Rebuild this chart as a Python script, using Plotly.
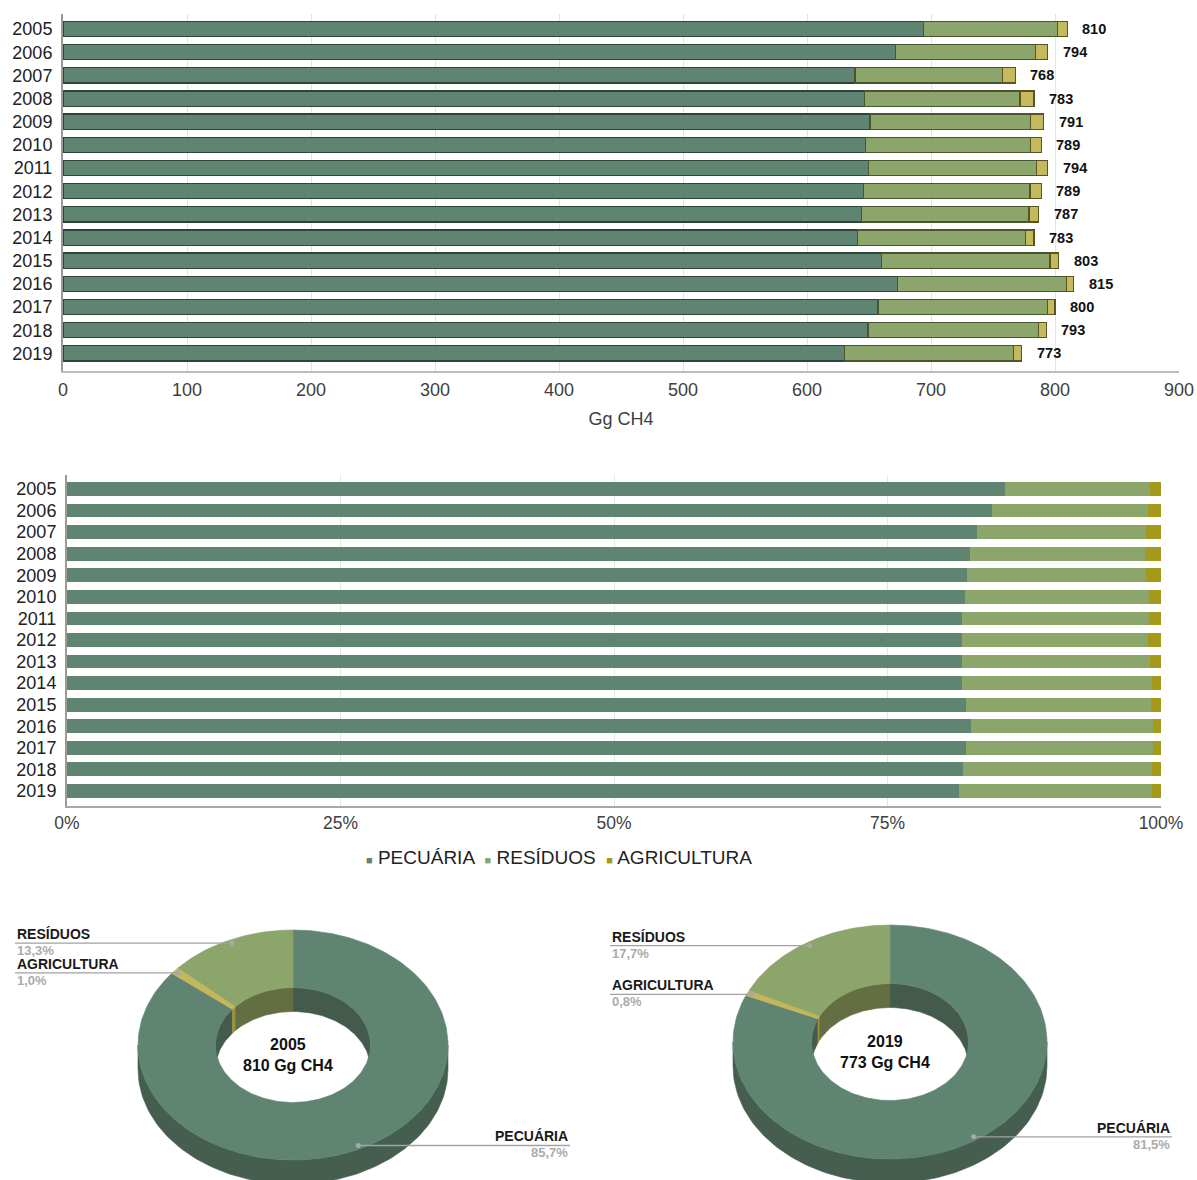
import math
import plotly.graph_objects as go

# ---- data: CH4 emissions by sector (Gg CH4) ----
years = ["2005", "2006", "2007", "2008", "2009", "2010", "2011", "2012",
         "2013", "2014", "2015", "2016", "2017", "2018", "2019"]
pecuaria = [694.2, 671.5, 638.7, 646.5, 650.8, 647.3, 649.7, 645.7,
            643.8, 640.9, 659.9, 673.1, 657.3, 649.2, 630.0]
residuos = [107.7, 112.9, 118.8, 125.3, 129.3, 132.8, 135.5, 134.1,
            135.2, 135.4, 136.1, 136.3, 136.5, 137.3, 136.8]
agricultura = [8.1, 9.6, 10.5, 11.2, 10.9, 8.9, 8.8, 9.2,
               8.0, 6.7, 7.0, 5.6, 6.2, 6.5, 6.2]
sector_names = ["PECUÁRIA", "RESÍDUOS", "AGRICULTURA"]
donut_years = ["2005", "2019"]
x_ticks_pct = [0, 25, 50, 75, 100]

W, H = 1197, 1180
FONT = "Liberation Sans, Arial, sans-serif"


def fx(p):
    return p / W


def fy(p):
    return 1 - p / H


series = [pecuaria, residuos, agricultura]
totals = [sum(v) for v in zip(*series)]
percents = [[v / t * 100 for v, t in zip(s, totals)] for s in series]

top_colors = ["#5f8572", "#8ba56b", "#c5b95e"]
top_edges = ["#2e4437", "#48562f", "#5a5420"]
pct_colors = ["#5f8572", "#8ba56b", "#a39a1c"]

fig = go.Figure()

# absolute stacked bars
for name, vals, col, edge in zip(sector_names, series, top_colors, top_edges):
    fig.add_trace(go.Bar(
        y=years, x=vals, orientation="h", name=name, width=0.66,
        marker=dict(color=col, line=dict(color=edge, width=1.2)),
        xaxis="x", yaxis="y", showlegend=False, hoverinfo="skip"))

# normalised stacked bars (share of each year's total)
for name, vals, col in zip(sector_names, percents, pct_colors):
    fig.add_trace(go.Bar(
        y=years, x=vals, orientation="h", name=name, width=0.64,
        marker=dict(color=col, line=dict(width=0)),
        xaxis="x2", yaxis="y2", showlegend=False, hoverinfo="skip"))

annotations = []
# total labels at the end of each stacked bar (category index on y)
for idx, t in enumerate(totals):
    annotations.append(dict(
        x=t, y=idx, xref="x", yref="y", text=f"<b>{t:.0f}</b>",
        showarrow=False, xanchor="left", yanchor="middle", xshift=13,
        font=dict(family=FONT, size=14.5, color="#111111")))

# legend row under the normalised chart: small coloured squares + names
legend_parts = [
    f"<span style='color:{c};font-size:11px'>■</span> {n}"
    for n, c in zip(sector_names, pct_colors)
]
annotations.append(dict(
    x=fx(559), y=fy(857), xref="paper", yref="paper",
    text="  ".join(legend_parts), showarrow=False,
    xanchor="center", yanchor="middle",
    font=dict(family=FONT, size=19, color="#222222")))

# ---- 3D-look donuts for the first and last year ----
face_cols = {"PECUÁRIA": "#5f8572", "RESÍDUOS": "#8ba56b", "AGRICULTURA": "#c6b65a"}
side_cols = {"PECUÁRIA": "#455e50", "RESÍDUOS": "#66733f", "AGRICULTURA": "#918a3a"}
inner_cols = {"PECUÁRIA": "#435a4c", "RESÍDUOS": "#636e42", "AGRICULTURA": "#9a923c"}

donut_geo = [
    dict(cx=293, cy=1045, rx=155, ry=115, left_x=15, right_x=570),
    dict(cx=890, cy=1042, rx=157, ry=117, left_x=610, right_x=1172),
]
HOLE = 0.5
DEPTH = 24
TAU = 2 * math.pi


def arc(cx, cy, rx, ry, a0, a1):
    n = max(3, int(abs(a1 - a0) / TAU * 240) + 3)
    ts = [a0 + (a1 - a0) * k / (n - 1) for k in range(n)]
    return ([cx + rx * math.sin(t) for t in ts],
            [cy - ry * math.cos(t) for t in ts])


def clip(a0, a1, lo, hi):
    s, e = max(a0, lo), min(a1, hi)
    return (s, e) if e > s else None


def poly(xs, ys, color):
    fig.add_trace(go.Scatter(
        x=xs + [xs[0]], y=ys + [ys[0]], mode="lines", fill="toself",
        fillcolor=color, line=dict(color=color, width=0.6),
        xaxis="x3", yaxis="y3", showlegend=False, hoverinfo="skip"))


for yr, g in zip(donut_years, donut_geo):
    i = years.index(yr)
    vals = {n: s[i] for n, s in zip(sector_names, series)}
    total = totals[i]
    # clockwise from 12 o'clock: livestock, agriculture, waste
    order = ["PECUÁRIA", "AGRICULTURA", "RESÍDUOS"]
    slices = []
    a = 0.0
    for n in order:
        span = vals[n] / total * TAU
        slices.append((n, a, a + span))
        a += span
    cx, cy, rx, ry = g["cx"], g["cy"], g["rx"], g["ry"]
    irx, iry = rx * HOLE, ry * HOLE

    # outer wall (front half)
    for n, a0, a1 in slices:
        c = clip(a0, a1, math.pi / 2, 3 * math.pi / 2)
        if c:
            xs, ys = arc(cx, cy, rx, ry, *c)
            poly(xs + xs[::-1], ys + [y + DEPTH for y in ys[::-1]], side_cols[n])
    # inner wall seen through the hole (far half)
    for n, a0, a1 in slices:
        for lo, hi in ((0, math.pi / 2), (3 * math.pi / 2, TAU)):
            c = clip(a0, a1, lo, hi)
            if c:
                xs, ys = arc(cx, cy, irx, iry, *c)
                poly(xs + xs[::-1], ys + [y + DEPTH for y in ys[::-1]], inner_cols[n])
    # top face
    for n, a0, a1 in slices:
        ox, oy = arc(cx, cy, rx, ry, a0, a1)
        ix, iy = arc(cx, cy, irx, iry, a0, a1)
        poly(ox + ix[::-1], oy + iy[::-1], face_cols[n])

    # leader lines and labels
    for n, a0, a1 in slices:
        mid = (a0 + a1) / 2
        dx = cx + 0.97 * rx * math.sin(mid)
        dy = cy - 0.97 * ry * math.cos(mid)
        share = f"{vals[n] / total * 100:.1f}".replace(".", ",")
        if n == "PECUÁRIA":
            lx, anchor = g["right_x"], "right"
        else:
            lx, anchor = g["left_x"], "left"
        fig.add_trace(go.Scatter(
            x=[lx, dx], y=[dy, dy], mode="lines",
            line=dict(color="#a2a2a2", width=1.3),
            xaxis="x3", yaxis="y3", showlegend=False, hoverinfo="skip"))
        fig.add_trace(go.Scatter(
            x=[dx], y=[dy], mode="markers",
            marker=dict(color="#a8a8a8", size=5),
            xaxis="x3", yaxis="y3", showlegend=False, hoverinfo="skip"))
        annotations.append(dict(
            x=lx, y=dy - 9, xref="x3", yref="y3", text=f"<b>{n}</b>",
            showarrow=False, xanchor=anchor, yanchor="middle",
            font=dict(family=FONT, size=14, color="#1a1a1a")))
        annotations.append(dict(
            x=lx, y=dy + 7.5, xref="x3", yref="y3", text=f"<b>{share}%</b>",
            showarrow=False, xanchor=anchor, yanchor="middle",
            font=dict(family=FONT, size=13, color="#ababab")))

    annotations.append(dict(
        x=cx - 5, y=cy + 10, xref="x3", yref="y3",
        text=f"<b>{yr}<br>{total:.0f} Gg CH4</b>",
        showarrow=False, xanchor="center", yanchor="middle",
        font=dict(family=FONT, size=16, color="#111111")))

year_axis = dict(
    type="category", categoryorder="array", categoryarray=years,
    tickmode="array", tickvals=years, ticktext=years,
    automargin=False, showgrid=False,
    showline=True, linecolor="#9a9a9a", linewidth=2,
    tickfont=dict(family=FONT, size=18, color="#222222"),
    ticklabelstandoff=5,
)

fig.update_layout(
    width=W, height=H, autosize=False,
    margin=dict(l=0, r=0, t=0, b=0),
    paper_bgcolor="white", plot_bgcolor="white",
    barmode="stack",
    font=dict(family=FONT, color="#222222"),
    showlegend=False,
    xaxis=dict(domain=[fx(63), fx(1179)], range=[0, 900], dtick=100,
               anchor="y", automargin=False,
               showgrid=True, gridcolor="#e3e3e3", gridwidth=1,
               showline=True, linecolor="#bcbcbc", linewidth=2, zeroline=False,
               tickfont=dict(family=FONT, size=18, color="#404040"),
               ticklabelstandoff=1,
               title=dict(text="Gg CH4", standoff=14,
                          font=dict(family=FONT, size=18, color="#404040"))),
    yaxis=dict(year_axis, domain=[fy(371), fy(14)],
               range=[14.76, -0.65], anchor="x"),
    xaxis2=dict(domain=[fx(67), fx(1161)], range=[0, 100],
                tickvals=x_ticks_pct, ticktext=[f"{v}%" for v in x_ticks_pct],
                anchor="y2", automargin=False,
                showgrid=True, gridcolor="#e6e6e6", gridwidth=1,
                showline=True, linecolor="#a8a8a8", linewidth=2, zeroline=False,
                tickfont=dict(family=FONT, size=17.5, color="#404040"),
                ticklabelstandoff=0),
    yaxis2=dict(year_axis, domain=[fy(806), fy(475)],
                range=[14.7, -0.65], anchor="x2"),
    xaxis3=dict(domain=[0, 1], range=[0, W], visible=False, anchor="y3",
                automargin=False, fixedrange=True),
    yaxis3=dict(domain=[0, fy(880)], range=[H, 880], visible=False,
                anchor="x3", automargin=False, fixedrange=True),
    annotations=annotations,
)

fig.write_html("out.html")
